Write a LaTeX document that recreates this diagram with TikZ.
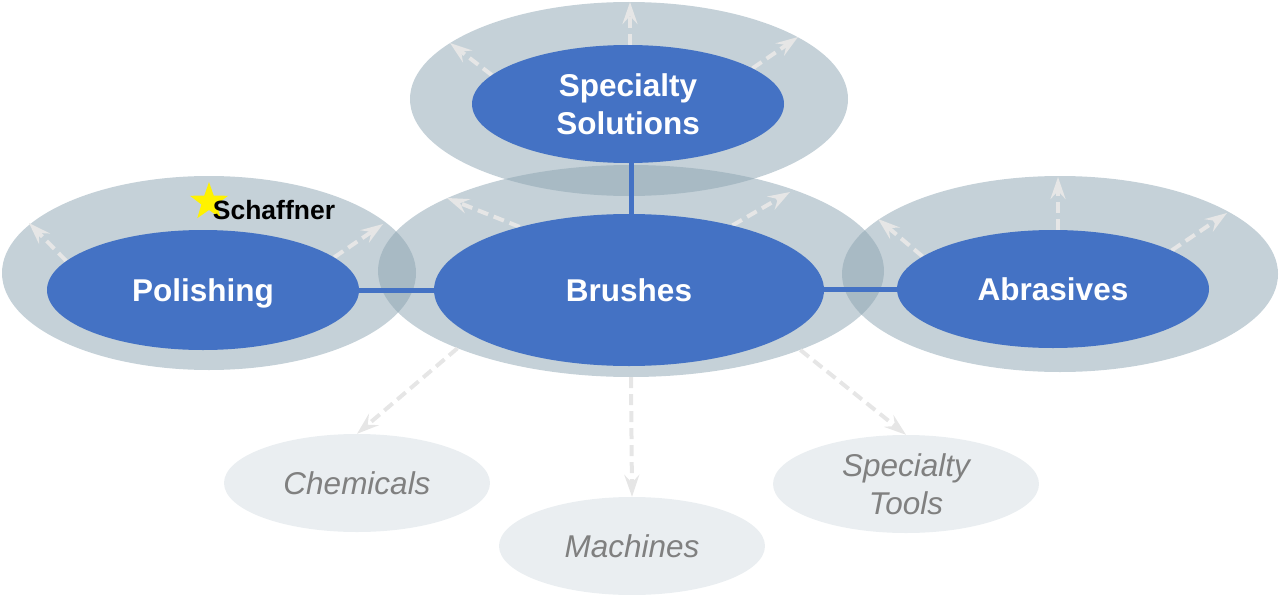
\documentclass[tikz,border=0pt]{standalone}
\usepackage{fontspec}
\setmainfont{Liberation Sans}
\usetikzlibrary{shapes.geometric,arrows.meta}
\definecolor{coreblue}{RGB}{68,114,196}
\definecolor{halo}{RGB}{139,163,177}
\definecolor{lightell}{RGB}{234,238,241}
\definecolor{dashcol}{RGB}{230,230,230}
\definecolor{subtext}{RGB}{128,128,128}
\pgfdeclarelayer{halolayer}
\pgfdeclarelayer{arrowlayer}
\pgfsetlayers{halolayer,arrowlayer,main}
\begin{document}
\begin{tikzpicture}[x=1pt,y=-1pt,
 halostyle/.style={ellipse, fill=halo, fill opacity=0.5, draw=none, inner sep=0pt},
 corestyle/.style={ellipse, fill=coreblue, inner sep=0pt, text=white, font=\bfseries\fontsize{31.5}{38}\selectfont, align=center},
 subnode/.style={ellipse, fill=lightell, inner sep=0pt, minimum width=266pt, minimum height=98pt, text=subtext, font=\itshape\fontsize{31.5}{38}\selectfont, align=center},
 growth/.style={draw=dashcol, line width=4pt, dash pattern=on 11pt off 6pt, -{Stealth[length=22pt,width=15pt,inset=8pt]}},
 link/.style={draw=coreblue, line width=5pt}]
\useasboundingbox (0,0) rectangle (1281,594);

% halos
\begin{pgfonlayer}{halolayer}
\node[halostyle, minimum width=438pt, minimum height=194pt] (sh) at (629,99) {};
\node[halostyle, minimum width=506pt, minimum height=212pt] (bh) at (631,271) {};
\node[halostyle, minimum width=414pt, minimum height=194pt] (ph) at (209,273) {};
\node[halostyle, minimum width=436pt, minimum height=196pt] (ah) at (1060,274) {};
\end{pgfonlayer}

% cores
\node[corestyle, minimum width=312pt, minimum height=118pt] (ssc) at (628,104) {Specialty\\Solutions};
\node[corestyle, minimum width=390pt, minimum height=152pt] (bc) at (629,290) {Brushes};
\node[corestyle, minimum width=312pt, minimum height=120pt, text depth=0pt] (pc) at (203,290) {Polishing};
\node[corestyle, minimum width=312pt, minimum height=118pt] (ac) at (1053,289) {Abrasives};

% sub ellipses
\node[subnode] (chem) at (357,483) {Chemicals};
\node[subnode] (mach) at (632,546) {Machines};
\node[subnode] (tools) at (906,484) {Specialty\\Tools};

% star and Schaffner
\node[star, star points=5, star point ratio=2.5, fill=yellow, draw=none, minimum size=40pt, inner sep=0pt] (star) at (209,202) {};
\node[font=\bfseries\fontsize{26.5}{30}\selectfont, inner sep=0pt, anchor=base] (sch) at (274,219) {Schaffner};

% free ends
\coordinate (s1) at (630,2);
\coordinate (s2) at (450,43);
\coordinate (s3) at (798,37);
\coordinate (b1) at (447,198);
\coordinate (b2) at (790,192);
\coordinate (p1) at (29,223);
\coordinate (p2) at (383,224);
\coordinate (a1) at (1058,177);
\coordinate (a2) at (878,219);
\coordinate (a3) at (1227,213);

\begin{pgfonlayer}{arrowlayer}
\draw[growth] (ssc.north -| s1) -- (s1);
\draw[growth] (ssc.168) -- (s2);
\draw[growth] (ssc.16) -- (s3);
\draw[growth] (bc.150) -- (b1);
\draw[growth] (bc.32) -- (b2);
\draw[growth] (pc.168) -- (p1);
\draw[growth] (pc.14) -- (p2);
\draw[growth] (ac.north -| a1) -- (a1);
\draw[growth] (ac.166) -- (a2);
\draw[growth] (ac.18) -- (a3);
\draw[growth] (bh.204) -- (chem.north);
\draw[growth] (bh.south) -- (mach.north);
\draw[growth] (bh.335) -- (tools.north);
\end{pgfonlayer}

% blue links
\draw[link] ([xshift=3pt]ssc.south) -- ([xshift=3pt]ssc.south |- bc.north);
\draw[link] (pc.east) -- (bc.west);
\draw[link] ([yshift=1pt]bc.east) -- ([yshift=1pt]bc.east -| ac.west);
\end{tikzpicture}
\end{document}
